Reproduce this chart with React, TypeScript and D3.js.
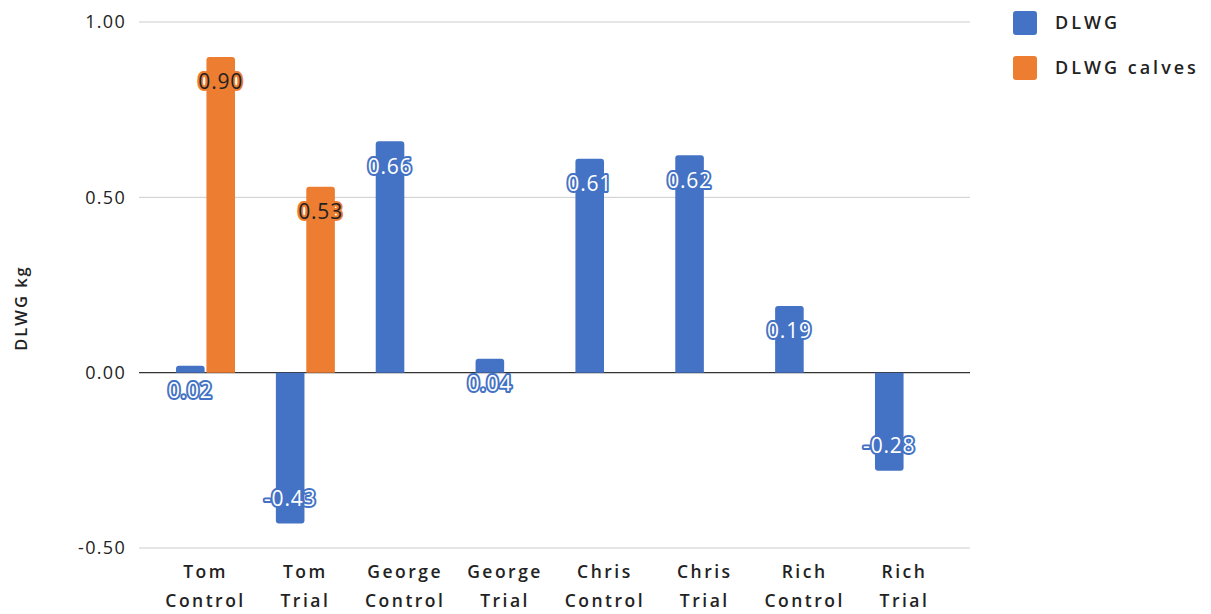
import React from "react";
import * as d3 from "d3";

const categories = [
  ["Tom", "Control"],
  ["Tom", "Trial"],
  ["George", "Control"],
  ["George", "Trial"],
  ["Chris", "Control"],
  ["Chris", "Trial"],
  ["Rich", "Control"],
  ["Rich", "Trial"],
];
const dlwg = [0.02, -0.43, 0.66, 0.04, 0.61, 0.62, 0.19, -0.28];
const dlwgCalves: (number | null)[] = [0.9, 0.53, null, null, null, null, null, null];
const yTicks = [-0.5, 0, 0.5, 1.0];
const seriesNames = ["DLWG", "DLWG calves"];
const colors = ["#4472C4", "#ED7D31"];

const W = 1211;
const H = 614;
const FONT = "'Open Sans', 'Noto Sans', sans-serif";
const fmt = (v: number) => d3.format(".2f")(v).replace("\u2212", "-");

export default function App() {
  const y = d3.scaleLinear().domain([-0.5, 1.0]).range([548, 22]);
  const x = d3
    .scaleBand<number>()
    .domain(d3.range(categories.length))
    .range([155.6, 954.4]);
  const sub = d3.scaleBand<number>().domain([0, 1]).range([-29.5, 29.5]).paddingInner(0.06);
  const series = [dlwg, dlwgCalves];
  const barW = sub.bandwidth();

  const barPath = (x0: number, v: number) => {
    const y0 = y(0);
    const y1 = y(v);
    const r = Math.min(3, Math.abs(y1 - y0) / 2);
    const top = Math.min(y0, y1);
    const bot = Math.max(y0, y1);
    if (v >= 0) {
      return `M${x0},${bot}V${top + r}Q${x0},${top} ${x0 + r},${top}H${x0 + barW - r}Q${x0 + barW},${top} ${x0 + barW},${top + r}V${bot}Z`;
    }
    return `M${x0},${top}V${bot - r}Q${x0},${bot} ${x0 + r},${bot}H${x0 + barW - r}Q${x0 + barW},${bot} ${x0 + barW},${bot - r}V${top}Z`;
  };

  return (
    <svg width={W} height={H} style={{ position: "absolute", left: 0, top: 0 }} fontFamily={FONT}>
      <rect width={W} height={H} fill="#fff" />
      {yTicks.map((t) => (
        <g key={t}>
          <line x1={139} x2={970} y1={y(t)} y2={y(t)} stroke={t === 0 ? "#333" : "#ccc"} strokeWidth={t === 0 ? 1.3 : 1} />
          <text x={126} y={y(t)} dy="0.35em" textAnchor="end" fontSize={18} letterSpacing={1.3} fill="#222">
            {fmt(t)}
          </text>
        </g>
      ))}
      <text
        transform={`translate(27,${308}) rotate(-90)`}
        textAnchor="middle"
        fontSize={16.5}
        fontWeight={600}
        letterSpacing={2}
        fill="#222"
      >
        DLWG kg
      </text>
      {series.map((vals, si) =>
        vals.map((v, i) =>
          v === null ? null : (
            <path key={`${si}-${i}`} d={barPath(x(i)! + x.bandwidth() / 2 + sub(si)!, v)} fill={colors[si]} />
          )
        )
      )}
      {series.map((vals, si) =>
        vals.map((v, i) => {
          if (v === null) return null;
          const cx = x(i)! + x.bandwidth() / 2 + sub(si)! + barW / 2;
          const cy = v >= 0 ? y(v) + 25 : y(v) - 25;
          return (
            <text
              key={`l${si}-${i}`}
              x={cx}
              y={cy}
              dy="0.35em"
              textAnchor="middle"
              fontSize={21}
              letterSpacing={0.8}
              fill={si === 0 ? "#fff" : "#222"}
              stroke={colors[si]}
              strokeWidth={4}
              strokeLinejoin="round"
              paintOrder="stroke"
            >
              {fmt(v)}
            </text>
          );
        })
      )}
      {categories.map((c, i) => {
        const cx = x(i)! + x.bandwidth() / 2;
        return (
          <text key={i} x={cx} textAnchor="middle" fontSize={17.5} fontWeight={600} fill="#222" letterSpacing={2.5}>
            <tspan x={cx} y={578}>{c[0]}</tspan>
            <tspan x={cx} y={607}>{c[1]}</tspan>
          </text>
        );
      })}
      {seriesNames.map((n, i) => (
        <g key={n} transform={`translate(1013,${11 + i * 45})`}>
          <rect width={24} height={24} rx={3} fill={colors[i]} />
          <text x={42} y={12} dy="0.35em" fontSize={18} fontWeight={600} fill="#222" letterSpacing={3}>
            {n}
          </text>
        </g>
      ))}
    </svg>
  );
}
